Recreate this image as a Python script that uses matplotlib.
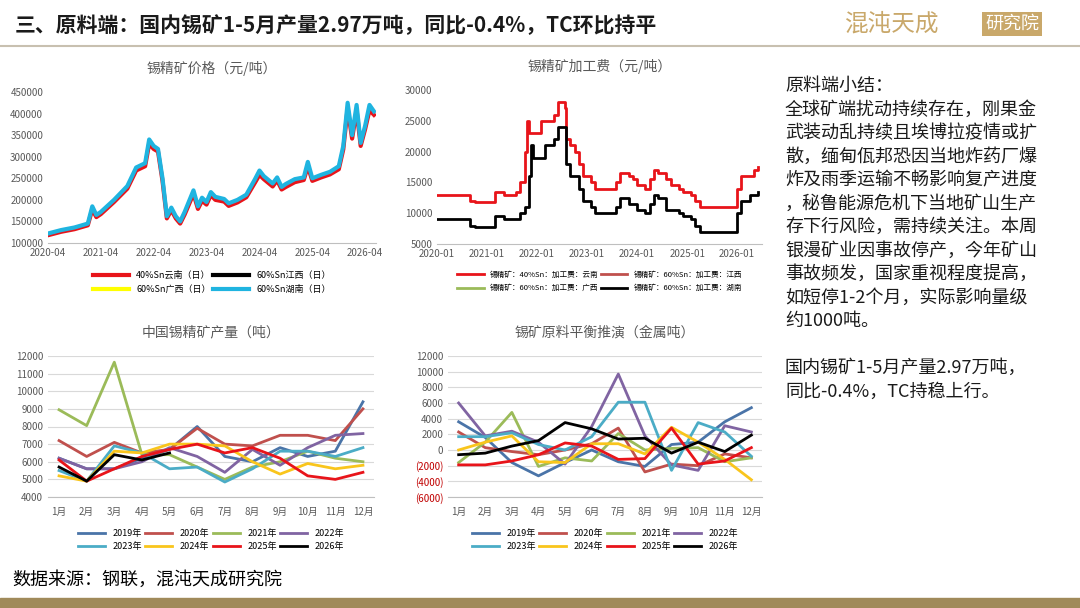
import matplotlib
matplotlib.use('Agg')
import matplotlib.pyplot as plt
import matplotlib.dates as mdates
import numpy as np
import pandas as pd

plt.rcParams['font.family'] = ['Noto Sans CJK SC', 'DejaVu Sans']

# ---- tin concentrate price (yuan/t) ----
price_dates = ['2020-04', '2020-07', '2020-10', '2021-01', '2021-02', '2021-03', '2021-04',
               '2021-07', '2021-10', '2021-12', '2022-02', '2022-03', '2022-04', '2022-05',
               '2022-06', '2022-07', '2022-08', '2022-09', '2022-10', '2022-11', '2023-01',
               '2023-02', '2023-03', '2023-04', '2023-05', '2023-06', '2023-08', '2023-09',
               '2023-11', '2024-01', '2024-03', '2024-04', '2024-05', '2024-07', '2024-08',
               '2024-09', '2024-10', '2024-12', '2025-02', '2025-03', '2025-04', '2025-06',
               '2025-08', '2025-10', '2025-11', '2025-12', '2026-01', '2026-02', '2026-03',
               '2026-04', '2026-05', '2026-06']
price_hunan = [122000, 130000, 136000, 145000, 185000, 165000, 172000,
               200000, 232000, 275000, 285000, 340000, 325000, 318000,
               250000, 162000, 182000, 162000, 150000, 172000, 222000,
               185000, 205000, 195000, 218000, 207000, 202000, 192000,
               200000, 212000, 248000, 268000, 255000, 238000, 252000,
               230000, 237000, 248000, 252000, 288000, 250000, 258000,
               265000, 278000, 325000, 425000, 350000, 420000, 332000,
               372000, 420000, 405000]
price_yunnan = [118000, 126000, 132000, 141000, 178000, 160000, 167000,
                195000, 226000, 268000, 278000, 330000, 318000, 312000,
                244000, 157000, 176000, 157000, 145000, 166000, 214000,
                179000, 198000, 189000, 211000, 200000, 196000, 186000,
                194000, 206000, 240000, 258000, 248000, 231000, 245000,
                224000, 230000, 241000, 246000, 278000, 244000, 252000,
                259000, 271000, 317000, 412000, 342000, 408000, 325000,
                364000, 408000, 397000]

# ---- processing fee (yuan/t), step series ----
tc_red_dates = ['2020-01', '2020-09', '2020-10', '2021-03', '2021-05', '2021-08', '2021-09',
                '2021-10', '2021-10-20', '2021-11', '2022-02', '2022-05', '2022-06', '2022-07-20',
                '2022-08', '2022-09', '2022-10', '2022-11', '2022-12', '2023-02', '2023-03',
                '2023-08', '2023-09', '2023-11', '2023-12', '2024-01', '2024-03', '2024-04',
                '2024-05', '2024-06', '2024-08', '2024-09', '2024-11', '2024-12', '2025-02',
                '2025-03', '2025-04', '2026-01', '2026-02', '2026-05', '2026-06']
tc_red = [13000, 12000, 11800, 13500, 13000, 13500, 15000,
          20000, 25000, 23000, 25000, 26000, 28000, 27000,
          22000, 21000, 20000, 18000, 16000, 15000, 14000,
          15000, 16500, 16000, 15500, 14500, 14000, 15500,
          17000, 16500, 15500, 14500, 14000, 13500, 13000,
          12000, 11000, 14000, 16000, 17000, 17500]
tc_blk_dates = ['2020-01', '2020-09', '2020-10', '2021-03', '2021-05', '2021-09', '2021-10',
                '2021-11', '2021-11-15', '2021-12', '2022-03', '2022-05', '2022-06', '2022-08',
                '2022-09', '2022-11', '2022-12', '2023-02', '2023-03', '2023-08', '2023-09',
                '2023-11', '2024-01', '2024-03', '2024-04', '2024-05', '2024-06', '2024-08',
                '2024-11', '2024-12', '2025-02', '2025-03', '2025-04', '2026-01', '2026-02',
                '2026-04', '2026-06']
tc_blk = [9000, 8000, 7800, 9500, 9000, 10000, 11000,
          16000, 21000, 19000, 21000, 22000, 24000, 18000,
          16000, 14000, 12000, 11000, 10000, 11000, 12500,
          11500, 10500, 10000, 11500, 13000, 12500, 10500,
          10000, 9500, 9000, 8000, 7000, 10000, 12000,
          13000, 13500]

# ---- monthly output & balance ----
months = ['1月', '2月', '3月', '4月', '5月', '6月', '7月', '8月', '9月', '10月', '11月', '12月']
years = ['2019年', '2020年', '2021年', '2022年', '2023年', '2024年', '2025年', '2026年']
year_colors = ['#4a74a8', '#c0504d', '#9bbb59', '#8064a2', '#4bacc6', '#f9c51c', '#e8141a', '#000000']

output = [
    [6200, 5600, 5600, 6200, 6700, 8000, 6300, 6000, 6800, 6300, 6600, 9400],
    [7200, 6300, 7100, 6500, 6700, 7900, 7000, 6900, 7500, 7500, 7200, 9000],
    [8950, 8050, 11650, 6400, 6400, 5700, 5000, 5700, 6000, 6600, 6200, 6000],
    [6200, 5600, 5600, 6000, 6800, 6300, 5400, 6700, 5800, 6800, 7500, 7600],
    [5500, 4900, 6900, 6500, 5600, 5700, 4850, 5600, 6600, 6600, 6300, 6800],
    [5200, 4900, 6600, 6500, 7000, 7000, 6900, 6000, 5300, 5900, 5600, 5800],
    [6100, 4900, 5600, 6300, 6700, 7000, 6500, 6800, 6200, 5200, 5000, 5400],
    [5700, 4900, 6400, 6100, 6500],
]
balance = [
    [3600, 1600, -1600, -3300, -1600, 0, -1500, -2100, 700, 1000, 3600, 5400],
    [2300, 300, -200, -600, 0, 800, 2800, -2800, -1800, -2000, -500, -1000],
    [-1600, 1000, 4800, -2100, -1000, -1400, 2100, 0, 200, 300, -1500, -1000],
    [6000, 1800, 2400, 1000, -1800, 3000, 9700, 1800, -1900, -2600, 3100, 2300],
    [1700, 1700, 2200, 700, 0, 1700, 6100, 6100, -2600, 3500, 2300, -800],
    [0, 1000, 1800, -1500, -1600, 800, 800, -500, 2900, 1000, -1200, -3800],
    [-1900, -1900, -1400, -600, 900, 500, -1200, -1100, 2800, -1800, -1400, 300],
    [-600, -400, 500, 1200, 3500, 2700, 1400, 1500, -400, 1000, -200, 1900],
]

W, H = 1080, 608
fig = plt.figure(figsize=(W / 100, H / 100), dpi=100, facecolor='white')


def box(x0, y0, x1, y1):
    return [x0 / W, 1 - y1 / H, (x1 - x0) / W, (y1 - y0) / H]


def style(ax):
    for s in ['top', 'right', 'left']:
        ax.spines[s].set_visible(False)
    ax.spines['bottom'].set_color('#bfbfbf')
    ax.tick_params(labelsize=7, colors='#595959', length=0)


def rowwise_legend(ax, ncol, **kw):
    # matplotlib fills legends column by column; reorder so rows read left to right
    h, l = ax.get_legend_handles_labels()
    nrow = int(np.ceil(len(h) / ncol))
    order = [r * ncol + c for c in range(ncol) for r in range(nrow) if r * ncol + c < len(h)]
    ax.legend([h[i] for i in order], [l[i] for i in order], ncol=ncol, frameon=False,
              loc='upper center', **kw)


tfont = dict(fontsize=10, color='#595959')

# header
fig.text(15 / W, 1 - 26 / H, '三、原料端：国内锡矿1-5月产量2.97万吨，同比-0.4%，TC环比持平',
         fontsize=15, va='center', color='#1a1a1a', fontweight='bold')
fig.text(845 / W, 1 - 24 / H, '混沌天成', fontsize=17, color='#c9a86a', va='center')
fig.text(985 / W, 1 - 24 / H, '研究院', fontsize=13, color='white', va='center',
         bbox=dict(facecolor='#c9a86a', edgecolor='none', pad=2))
fig.add_artist(plt.Line2D([0, 1], [1 - 46 / H, 1 - 46 / H], color='#c8c0b0', lw=1.5))
fig.add_artist(plt.Rectangle((0, 0), 1, 10 / H, color='#a08a5a'))
fig.text(12 / W, 1 - 580 / H, '数据来源：钢联，混沌天成研究院', fontsize=13, va='center')

# price chart
ax = fig.add_axes(box(48, 92, 376, 243))
style(ax)
pd_ = pd.to_datetime(price_dates)
ax.plot(pd_, price_yunnan, color='#e8141a', lw=3, label='40%Sn云南（日）')
ax.plot([], [], color='black', lw=3, label='60%Sn江西（日）')
ax.plot([], [], color='#ffff00', lw=3, label='60%Sn广西（日）')
ax.plot(pd_, price_hunan, color='#1fb4e0', lw=3, label='60%Sn湖南（日）')
ax.set_ylim(100000, 450000)
ax.set_yticks(np.arange(100000, 450001, 50000))
ax.set_xlim(pd.Timestamp('2020-04-01'), pd.Timestamp('2026-06-15'))
ax.set_xticks(pd.to_datetime(['%d-04' % y for y in range(2020, 2027)]))
ax.xaxis.set_major_formatter(mdates.DateFormatter('%Y-%m'))
ax.set_title('锡精矿价格（元/吨）', pad=14, **tfont)
rowwise_legend(ax, 2, fontsize=6.5, bbox_to_anchor=(0.5, -0.13),
               handlelength=4, columnspacing=0.3, labelspacing=0.6)

# TC chart
ax = fig.add_axes(box(437, 90, 762, 244))
style(ax)
ax.step(pd.to_datetime(tc_red_dates, format='mixed'), tc_red, where='post', color='#e8141a', lw=2,
        label='锡精矿：40%Sn：加工费：云南')
ax.plot([], [], color='#c0504d', lw=2, label='锡精矿：60%Sn：加工费：江西')
ax.plot([], [], color='#9bbb59', lw=2, label='锡精矿：60%Sn：加工费：广西')
ax.step(pd.to_datetime(tc_blk_dates, format='mixed'), tc_blk, where='post', color='black', lw=2,
        label='锡精矿：60%Sn：加工费：湖南')
ax.set_ylim(5000, 30000)
ax.set_yticks(np.arange(5000, 30001, 5000))
ax.set_xlim(pd.Timestamp('2020-01-01'), pd.Timestamp('2026-07-01'))
ax.set_xticks(pd.to_datetime(['%d-01' % y for y in range(2020, 2027)]))
ax.xaxis.set_major_formatter(mdates.DateFormatter('%Y-%m'))
ax.set_title('锡精矿加工费（元/吨）', pad=14, **tfont)
rowwise_legend(ax, 2, fontsize=5.5, bbox_to_anchor=(0.5, -0.13),
               handlelength=3.5, columnspacing=0.3, labelspacing=0.7)

x = np.arange(len(months))

# output chart
ax = fig.add_axes(box(48, 356, 374, 497))
style(ax)
for vals, c, lab in zip(output, year_colors, years):
    ax.plot(x[:len(vals)], vals, color=c, lw=2, label=lab)
ax.set_ylim(4000, 12000)
ax.set_yticks(np.arange(4000, 12001, 1000))
ax.grid(axis='y', color='#d9d9d9', lw=0.8)
ax.set_xlim(-0.4, 11.4)
ax.set_xticks(x)
ax.set_xticklabels(months)
ax.tick_params(axis='x', pad=7)
ax.set_title('中国锡精矿产量（吨）', pad=14, **tfont)
rowwise_legend(ax, 4, fontsize=6.5, bbox_to_anchor=(0.5, -0.17),
               handlelength=3, columnspacing=0.4, labelspacing=0.4)

# balance chart
ax = fig.add_axes(box(448, 356, 762, 497))
style(ax)
for vals, c, lab in zip(balance, year_colors, years):
    ax.plot(x, vals, color=c, lw=2, label=lab)
ax.set_ylim(-6000, 12000)
ticks = np.arange(-6000, 12001, 2000)
ax.set_yticks(ticks)
ax.set_yticklabels(['(%d)' % -t if t < 0 else '%d' % t for t in ticks])
for lbl, t in zip(ax.get_yticklabels(), ticks):
    if t < 0:
        lbl.set_color('#c00000')
ax.grid(axis='y', color='#d9d9d9', lw=0.8)
ax.set_xlim(-0.4, 11.4)
ax.set_xticks(x)
ax.set_xticklabels(months)
ax.tick_params(axis='x', pad=7)
ax.set_title('锡矿原料平衡推演（金属吨）', pad=14, **tfont)
rowwise_legend(ax, 4, fontsize=6.5, bbox_to_anchor=(0.5, -0.17),
               handlelength=3, columnspacing=0.4, labelspacing=0.4)

# summary text
lines = ['原料端小结：', '全球矿端扰动持续存在，刚果金', '武装动乱持续且埃博拉疫情或扩',
         '散，缅甸佤邦恐因当地炸药厂爆', '炸及雨季运输不畅影响复产进度', '，秘鲁能源危机下当地矿山生产',
         '存下行风险，需持续关注。本周', '银漫矿业因事故停产，今年矿山', '事故频发，国家重视程度提高，',
         '如短停1-2个月，实际影响量级', '约1000吨。', '', '国内锡矿1-5月产量2.97万吨，',
         '同比-0.4%，TC持稳上行。']
for i, s in enumerate(lines):
    fig.text(785 / W, 1 - (86 + i * 23.5) / H, s, fontsize=13, va='center', color='#1a1a1a')

fig.savefig('out.png', dpi=100, facecolor='white')
